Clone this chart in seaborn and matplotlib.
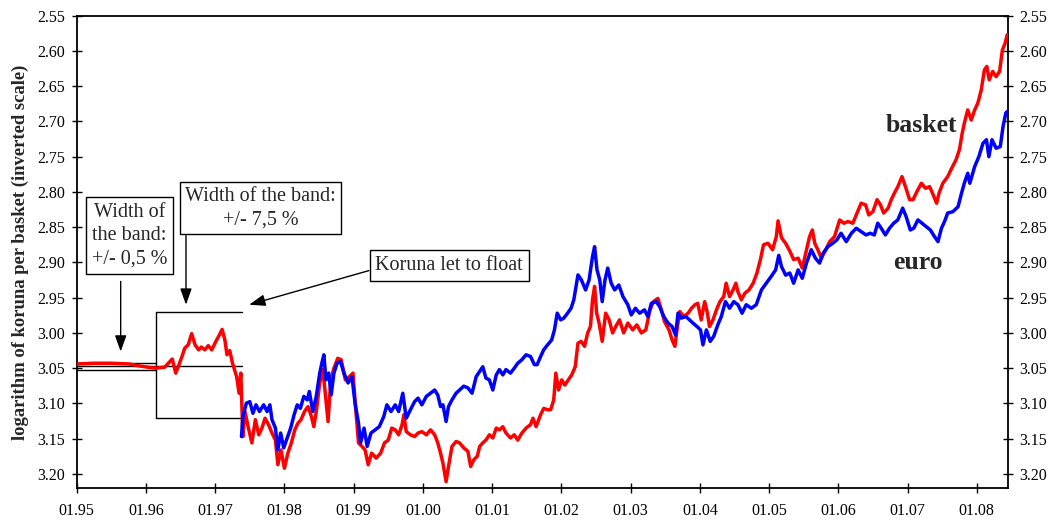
import matplotlib
matplotlib.use("Agg")
import matplotlib.pyplot as plt
import seaborn as sns
import pandas as pd

# ---------------- data ----------------
red_x = [1995.00, 1995.25, 1995.50, 1995.75, 1995.92, 1996.05, 1996.145, 1996.27, 1996.38, 1996.43,
         1996.47, 1996.52, 1996.56, 1996.61, 1996.66, 1996.71, 1996.76, 1996.80, 1996.85, 1996.90,
         1996.95, 1997.01, 1997.06, 1997.10, 1997.14, 1997.17, 1997.21, 1997.25, 1997.31, 1997.345,
         1997.37, 1997.40, 1997.43, 1997.48, 1997.53, 1997.58, 1997.63, 1997.675, 1997.72, 1997.77,
         1997.82, 1997.87, 1997.905, 1997.95, 1998.00, 1998.05, 1998.10, 1998.15, 1998.195, 1998.24,
         1998.29, 1998.34, 1998.39, 1998.425, 1998.46, 1998.51, 1998.555, 1998.59, 1998.63, 1998.67,
         1998.715, 1998.77, 1998.82, 1998.88, 1998.94, 1998.99, 1999.035, 1999.07, 1999.12, 1999.165,
         1999.21, 1999.26, 1999.325, 1999.39, 1999.445, 1999.50, 1999.55, 1999.60, 1999.65, 1999.70,
         1999.725, 1999.76, 1999.82, 1999.88, 1999.93, 1999.985, 2000.05, 2000.11, 2000.17, 2000.215,
         2000.255, 2000.29, 2000.335, 2000.37, 2000.42, 2000.48, 2000.53, 2000.59, 2000.65, 2000.69,
         2000.735, 2000.785, 2000.82, 2000.865, 2000.91, 2000.96, 2001.01, 2001.06, 2001.105, 2001.155,
         2001.20, 2001.265, 2001.32, 2001.37, 2001.43, 2001.49, 2001.555, 2001.59, 2001.635, 2001.70,
         2001.745, 2001.80, 2001.845, 2001.89, 2001.92, 2001.96, 2002.005, 2002.05, 2002.10, 2002.15,
         2002.20, 2002.24, 2002.285, 2002.335, 2002.38, 2002.42, 2002.45, 2002.48, 2002.51, 2002.545,
         2002.59, 2002.64, 2002.69, 2002.74, 2002.785, 2002.84, 2002.90, 2002.96, 2003.03, 2003.09,
         2003.155, 2003.22, 2003.28, 2003.33, 2003.395, 2003.445, 2003.49, 2003.555, 2003.60, 2003.64,
         2003.67, 2003.71, 2003.77, 2003.83, 2003.88, 2003.93, 2003.97, 2004.02, 2004.07, 2004.105,
         2004.14, 2004.19, 2004.24, 2004.29, 2004.345, 2004.38, 2004.43, 2004.48, 2004.52, 2004.55,
         2004.60, 2004.65, 2004.71, 2004.77, 2004.825, 2004.875, 2004.92, 2004.985, 2005.05, 2005.105,
         2005.13, 2005.18, 2005.24, 2005.30, 2005.355, 2005.42, 2005.48, 2005.53, 2005.585, 2005.625,
         2005.66, 2005.705, 2005.755, 2005.82, 2005.875, 2005.945, 2006.02, 2006.08, 2006.14, 2006.21,
         2006.27, 2006.33, 2006.395, 2006.44, 2006.50, 2006.56, 2006.61, 2006.655, 2006.72, 2006.765,
         2006.81, 2006.86, 2006.92, 2006.97, 2007.03, 2007.08, 2007.135, 2007.20, 2007.26, 2007.32,
         2007.37, 2007.42, 2007.455, 2007.51, 2007.58, 2007.65, 2007.70, 2007.75, 2007.79, 2007.82,
         2007.87, 2007.92, 2007.97, 2008.015, 2008.065, 2008.11, 2008.145, 2008.18, 2008.23, 2008.28,
         2008.33, 2008.37, 2008.41, 2008.44]
red_y = [3.044, 3.043, 3.043, 3.044, 3.047, 3.049, 3.050, 3.0486, 3.037, 3.057,
         3.047, 3.0335, 3.0216, 3.017, 3.001, 3.017, 3.024, 3.020, 3.024, 3.018,
         3.024, 3.012, 3.003, 2.995, 3.010, 3.031, 3.025, 3.043, 3.062, 3.0855,
         3.057, 3.147, 3.1115, 3.135, 3.156, 3.123, 3.1445, 3.135, 3.121, 3.130,
         3.142, 3.152, 3.187, 3.166, 3.192, 3.1705, 3.156, 3.1375, 3.128, 3.123,
         3.1115, 3.1045, 3.1186, 3.133, 3.1115, 3.071, 3.052, 3.0855, 3.1257, 3.0666,
         3.050, 3.036, 3.038, 3.0666, 3.062, 3.057, 3.114, 3.156, 3.161, 3.166,
         3.187, 3.1705, 3.1776, 3.1705, 3.156, 3.152, 3.135, 3.1375, 3.1445, 3.130,
         3.116, 3.140, 3.1445, 3.147, 3.142, 3.140, 3.1445, 3.1375, 3.1445, 3.156,
         3.1705, 3.185, 3.211, 3.1895, 3.161, 3.154, 3.156, 3.163, 3.168, 3.1895,
         3.180, 3.175, 3.161, 3.156, 3.152, 3.1445, 3.149, 3.135, 3.1375, 3.133,
         3.142, 3.149, 3.1445, 3.152, 3.142, 3.135, 3.130, 3.121, 3.133, 3.116,
         3.107, 3.109, 3.109, 3.095, 3.057, 3.081, 3.0666, 3.074, 3.0666, 3.0595,
         3.048, 3.0145, 3.012, 3.019, 3.000, 2.991, 2.953, 2.934, 2.972, 2.986,
         3.012, 2.972, 2.9815, 3.000, 2.991, 2.9815, 3.000, 2.986, 2.9957, 2.9886,
         3.000, 2.9957, 2.9673, 2.9556, 2.951, 2.9673, 2.984, 2.9957, 3.010, 3.019,
         2.9957, 2.9697, 2.9768, 2.972, 2.965, 2.960, 2.958, 2.9815, 2.9556, 2.9697,
         2.991, 2.9815, 2.9673, 2.9556, 2.9485, 2.9295, 2.9485, 2.939, 2.9295, 2.9414,
         2.953, 2.9437, 2.939, 2.9295, 2.915, 2.896, 2.875, 2.8728, 2.882, 2.8634,
         2.841, 2.865, 2.873, 2.884, 2.896, 2.894, 2.908, 2.887, 2.8634, 2.854,
         2.8728, 2.882, 2.894, 2.882, 2.8705, 2.8634, 2.8397, 2.8444, 2.842, 2.8444,
         2.830, 2.816, 2.8184, 2.8326, 2.828, 2.811, 2.8184, 2.830, 2.823, 2.811,
         2.8018, 2.7925, 2.7783, 2.7925, 2.811, 2.811, 2.7996, 2.7877, 2.7948, 2.7925,
         2.804, 2.816, 2.8018, 2.7877, 2.7783, 2.764, 2.7546, 2.740, 2.7167, 2.7026,
         2.6837, 2.698, 2.6837, 2.6742, 2.6554, 2.627, 2.622, 2.641, 2.629, 2.6365,
         2.629, 2.5987, 2.589, 2.577]

blue_x = [1997.38, 1997.40, 1997.45, 1997.50, 1997.545, 1997.59, 1997.64, 1997.70, 1997.75, 1997.79,
          1997.82, 1997.87, 1997.905, 1997.945, 1997.99, 1998.04, 1998.09, 1998.14, 1998.185, 1998.23,
          1998.28, 1998.33, 1998.36, 1998.41, 1998.46, 1998.51, 1998.54, 1998.57, 1998.60, 1998.64,
          1998.675, 1998.715, 1998.76, 1998.81, 1998.86, 1998.92, 1998.975, 1999.02, 1999.07, 1999.10,
          1999.15, 1999.195, 1999.25, 1999.31, 1999.37, 1999.435, 1999.48, 1999.54, 1999.60, 1999.65,
          1999.71, 1999.76, 1999.82, 1999.88, 1999.93, 1999.985, 2000.05, 2000.11, 2000.17, 2000.215,
          2000.255, 2000.29, 2000.335, 2000.37, 2000.42, 2000.48, 2000.53, 2000.59, 2000.65, 2000.71,
          2000.77, 2000.82, 2000.865, 2000.91, 2000.96, 2001.01, 2001.06, 2001.105, 2001.155, 2001.20,
          2001.265, 2001.32, 2001.37, 2001.43, 2001.49, 2001.555, 2001.61, 2001.65, 2001.70, 2001.745,
          2001.80, 2001.86, 2001.90, 2001.94, 2001.99, 2002.035, 2002.09, 2002.14, 2002.18, 2002.24,
          2002.29, 2002.35, 2002.40, 2002.45, 2002.48, 2002.515, 2002.555, 2002.59, 2002.63, 2002.67,
          2002.72, 2002.77, 2002.83, 2002.89, 2002.96, 2003.01, 2003.07, 2003.13, 2003.20, 2003.25,
          2003.30, 2003.37, 2003.42, 2003.48, 2003.54, 2003.60, 2003.65, 2003.685, 2003.73, 2003.80,
          2003.85, 2003.90, 2003.96, 2004.01, 2004.045, 2004.095, 2004.15, 2004.20, 2004.26, 2004.31,
          2004.37, 2004.43, 2004.49, 2004.55, 2004.61, 2004.67, 2004.745, 2004.815, 2004.89, 2004.96,
          2005.03, 2005.095, 2005.14, 2005.18, 2005.24, 2005.30, 2005.355, 2005.42, 2005.48, 2005.54,
          2005.61, 2005.67, 2005.73, 2005.78, 2005.85, 2005.92, 2005.98, 2006.04, 2006.115, 2006.19,
          2006.26, 2006.33, 2006.40, 2006.46, 2006.52, 2006.57, 2006.62, 2006.68, 2006.74, 2006.80,
          2006.86, 2006.93, 2006.98, 2007.04, 2007.09, 2007.15, 2007.21, 2007.27, 2007.33, 2007.39,
          2007.44, 2007.49, 2007.535, 2007.58, 2007.655, 2007.73, 2007.78, 2007.82, 2007.87, 2007.90,
          2007.97, 2008.03, 2008.09, 2008.14, 2008.175, 2008.22, 2008.28, 2008.34, 2008.38, 2008.42,
          2008.44]
blue_y = [3.147, 3.1186, 3.0997, 3.0975, 3.114, 3.102, 3.1115, 3.102, 3.1115, 3.102,
          3.123, 3.135, 3.166, 3.142, 3.163, 3.149, 3.135, 3.116, 3.102, 3.107,
          3.090, 3.095, 3.083, 3.1115, 3.090, 3.057, 3.043, 3.031, 3.0666, 3.057,
          3.088, 3.057, 3.043, 3.0406, 3.057, 3.071, 3.062, 3.0997, 3.128, 3.156,
          3.135, 3.161, 3.142, 3.1375, 3.133, 3.1186, 3.102, 3.1115, 3.102, 3.1115,
          3.0855, 3.121, 3.109, 3.0975, 3.0925, 3.102, 3.090, 3.0855, 3.081, 3.088,
          3.1045, 3.102, 3.1257, 3.1045, 3.095, 3.0855, 3.081, 3.0755, 3.078, 3.0855,
          3.062, 3.0545, 3.048, 3.064, 3.0666, 3.081, 3.0595, 3.052, 3.0595, 3.052,
          3.057, 3.050, 3.043, 3.038, 3.031, 3.0335, 3.045, 3.045, 3.0335, 3.024,
          3.017, 3.010, 2.9957, 2.972, 2.9815, 2.979, 2.972, 2.965, 2.953, 2.9177,
          2.925, 2.939, 2.925, 2.8918, 2.8776, 2.9106, 2.925, 2.9556, 2.925, 2.908,
          2.9295, 2.939, 2.932, 2.9485, 2.960, 2.9744, 2.965, 2.972, 2.9673, 2.9768,
          2.958, 2.9556, 2.9627, 2.9768, 2.986, 2.991, 3.003, 2.972, 2.979, 2.9768,
          2.9815, 2.986, 2.991, 2.9957, 3.017, 2.9957, 3.012, 3.005, 2.9886, 2.9768,
          2.9556, 2.965, 2.9556, 2.960, 2.972, 2.960, 2.965, 2.960, 2.939, 2.9295,
          2.920, 2.9106, 2.890, 2.906, 2.918, 2.915, 2.9295, 2.9106, 2.9225, 2.901,
          2.882, 2.894, 2.901, 2.887, 2.8776, 2.8728, 2.868, 2.8586, 2.8705, 2.8586,
          2.8515, 2.8563, 2.861, 2.8586, 2.861, 2.8444, 2.8515, 2.861, 2.8515, 2.8444,
          2.8397, 2.823, 2.835, 2.854, 2.8515, 2.8397, 2.8444, 2.849, 2.854, 2.8634,
          2.8705, 2.8515, 2.842, 2.830, 2.828, 2.821, 2.8018, 2.7877, 2.7735, 2.7877,
          2.764, 2.750, 2.731, 2.726, 2.750, 2.726, 2.738, 2.7357, 2.707, 2.688,
          2.686]

# exchange-rate band (centre parity, narrow and wide band edges)
narrow_band_x = [1995.0, 1996.14]
narrow_band = [3.042, 3.0525]
wide_band_x = [1996.14, 1997.39]
wide_band = [2.970, 3.120]
parity = 3.047

year_ticks = list(range(1995, 2009))
year_labels = ["01.%02d" % (y % 100) for y in year_ticks]
y_ticks = [2.55, 2.60, 2.65, 2.70, 2.75, 2.80, 2.85, 2.90, 2.95, 3.00, 3.05, 3.10, 3.15, 3.20]

# ---------------- styling ----------------
sns.set_style("white")
plt.rcParams["font.family"] = ["Liberation Serif", "DejaVu Serif"]

fig = plt.figure(figsize=(10.51, 5.21), dpi=100)
ax = fig.add_axes([0.073, 0.0633, 0.886, 0.9066])

df_red = pd.DataFrame({"date": red_x, "value": red_y})
df_blue = pd.DataFrame({"date": blue_x, "value": blue_y})

# band lines
band_kw = dict(color="black", lw=1.0, zorder=2)
ax.plot(narrow_band_x, [narrow_band[0]] * 2, **band_kw)
ax.plot(narrow_band_x, [narrow_band[1]] * 2, **band_kw)
ax.plot(wide_band_x, [wide_band[0]] * 2, **band_kw)
ax.plot(wide_band_x, [wide_band[1]] * 2, **band_kw)
ax.plot([wide_band_x[0]] * 2, wide_band, **band_kw)
ax.plot([narrow_band_x[0], wide_band_x[1]], [parity] * 2, **band_kw)

sns.lineplot(data=df_red, x="date", y="value", ax=ax, color="#ff0000",
             linewidth=2.5, estimator=None, sort=False, zorder=3)
sns.lineplot(data=df_blue, x="date", y="value", ax=ax, color="#0000ff",
             linewidth=2.5, estimator=None, sort=False, zorder=4)

ax.set_xlim(1995.0, 2008.45)
ax.set_ylim(3.22, 2.55)
ax.set_xticks(year_ticks)
ax.set_xticklabels(year_labels)
ax.set_yticks(y_ticks)
ax.set_yticklabels(["%.2f" % v for v in y_ticks])
ax.set_xlabel("")
ax.set_ylabel("logarithm of koruna per basket (inverted scale)", fontsize=13.4,
              fontweight="bold", labelpad=6)
ax.tick_params(axis="both", direction="inout", length=7, width=1.0, labelsize=11.5,
               color="black", labelcolor="black")
ax.tick_params(axis="y", left=True, right=True, labelleft=True, labelright=True, pad=5)
ax.tick_params(axis="x", bottom=True, pad=7)
for sp in ax.spines.values():
    sp.set_visible(True)
    sp.set_color("black")
    sp.set_linewidth(1.3)
ax.grid(False)

# series labels
ax.text(2007.20, 2.706, "basket", fontsize=18.5, fontweight="bold", ha="center", va="center")
ax.text(2007.15, 2.900, "euro", fontsize=18.5, fontweight="bold", ha="center", va="center")

# annotation boxes
ax.text(1995.76, 2.8617, "Width of\nthe band:\n+/- 0,5 %", fontsize=14.5, ha="center",
        va="center", linespacing=1.3,
        bbox=dict(boxstyle="square,pad=0.28", fc="white", ec="black", lw=1.0), zorder=5)
ax.text(1997.658, 2.8232, "Width of the band:\n+/- 7,5 %", fontsize=14.5, ha="center",
        va="center", linespacing=1.3,
        bbox=dict(boxstyle="square,pad=0.25", fc="white", ec="black", lw=1.0), zorder=5)
ax.text(2000.379, 2.9045, "Koruna let to float", fontsize=14.5, ha="center",
        va="center", bbox=dict(boxstyle="square,pad=0.28", fc="white", ec="black", lw=1.0),
        zorder=5)

arrow = dict(arrowstyle="-|>,head_length=0.7,head_width=0.25", color="black", lw=1.0,
             shrinkA=0, shrinkB=0, mutation_scale=14)
ax.annotate("", xy=(1995.635, 3.0265), xytext=(1995.635, 2.927), arrowprops=arrow)
ax.annotate("", xy=(1996.578, 2.960), xytext=(1996.578, 2.862), arrowprops=arrow)
ax.annotate("", xy=(1997.49, 2.960), xytext=(1999.22, 2.9116), arrowprops=arrow)

fig.savefig("out.png", dpi=100)
